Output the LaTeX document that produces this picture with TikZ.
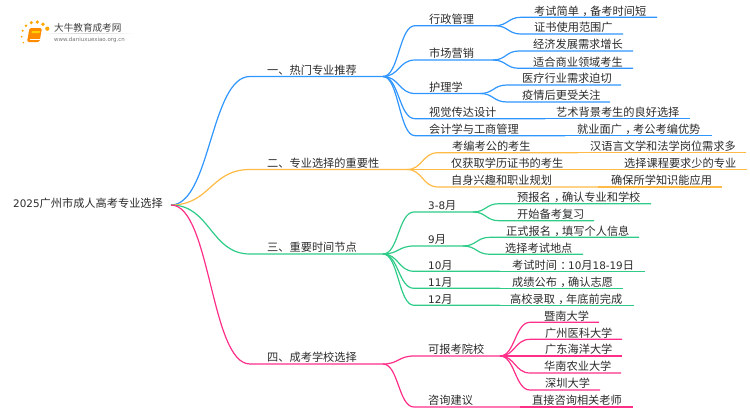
\documentclass[tikz,border=0pt]{standalone}
\usepackage{fontspec}
\setmainfont{Noto Sans CJK SC}
\newfontfamily\latfont{DejaVu Sans}
\usetikzlibrary{calc}
\definecolor{cblue}{HTML}{2F95FF}
\definecolor{corange}{HTML}{FFBB45}
\definecolor{cgreen}{HTML}{2ECC88}
\definecolor{cpink}{HTML}{FF2E88}
\definecolor{ctext}{HTML}{2B2B2B}
\newcommand\lat[1]{{\latfont\fontsize{10.4}{12}\selectfont #1}}
\newcommand\cpunct[1]{\makebox[1em][l]{\hspace{.3em}#1}}
% style, parent, id, bend x, y, end x, text x, text
\newcommand\bough[8]{%
  \coordinate (#3-a) at (#4,#5);
  \coordinate (#3-b) at (#6,#5);
  \node[lab] (#3) at (#7,#5-2.3) {#8};
  \draw[#1] (#2) .. controls ($(#2)!0.5!(#2-|#3-a)$) and ($(#3-a)!0.5!(#3-a-|#2)$) .. (#3-a) -- (#3-b);
}
\tikzset{
  lab/.style={anchor=base west,inner sep=0pt,text=ctext,font=\fontsize{11.2}{13}\selectfont},
  bb/.style={cblue,line width=1.2pt},
  ob/.style={corange,line width=1.2pt},
  gb/.style={cgreen,line width=1.2pt},
  pb/.style={cpink,line width=1.2pt}
}
\begin{document}
\begin{tikzpicture}[x=1pt,y=-1pt]
\useasboundingbox (0,0) rectangle (750,410);
% logo
\shade[left color=white,right color=white,middle color=black!18] (40,33) rectangle (134,33.6);
\foreach \p/\r in {(23.3,42.6)/0.9,(21.7,36.7)/1,(22.7,30.7)/1.2,(26,25.7)/1.4,(31.3,22.7)/1.7,(37.3,22)/1.8,(43,24.3)/1.9,(47.3,28.7)/2.1}
  \fill[orange!70!yellow] \p circle (\r);
\fill[orange!90!yellow,rounded corners=1.5pt] (29.5,28) -- (42,28) -- (39.5,42) -- (27,42) -- cycle;
\draw[white,line width=.5pt] (30,39.5) -- (39.5,39.5);
\fill[yellow!70!orange] (32,31) -- (40,31) -- (39.5,33) -- (31.5,33) -- cycle;
\node[anchor=base west,inner sep=0pt,text=black!75,font=\fontsize{9.6}{11}\selectfont] (logoa) at (54,31) {大牛教育成考网};
\node[anchor=base west,inner sep=0pt,text=black!55,font=\latfont\fontsize{5.5}{7}\selectfont] (logob) at (54,41) {www.daniuxuexiao.org.cn};
% root
\node[lab] (root) at (13,207.6) {\lat{2025}广州市成人高考专业选择};
\coordinate (r) at (171,205);
% level 1
\bough{bb}{r}{a}{250}{76.5}{383}{267}{一、热门专业推荐}
\bough{ob}{r}{b}{250}{169.5}{407}{267}{二、专业选择的重要性}
\bough{gb}{r}{c}{250}{254}{383}{267}{三、重要时间节点}
\bough{pb}{r}{d}{250}{364}{383}{267}{四、成考学校选择}
% blue
\bough{bb}{a-b}{a1}{415}{25.7}{495}{429}{行政管理}
\bough{bb}{a-b}{a2}{415}{60}{493}{429}{市场营销}
\bough{bb}{a-b}{a3}{415}{93.5}{480}{429}{护理学}
\bough{bb}{a-b}{a4}{415}{118.7}{545}{429}{视觉传达设计}
\bough{bb}{a-b}{a5}{415}{135.7}{565}{429}{会计学与工商管理}
\bough{bb}{a1-b}{a11}{521}{17.3}{657}{534}{考试简单\cpunct{，}备考时间短}
\bough{bb}{a1-b}{a12}{521}{34}{623}{534}{证书使用范围广}
\bough{bb}{a2-b}{a21}{519}{51}{633}{533}{经济发展需求增长}
\bough{bb}{a2-b}{a22}{519}{68.3}{633}{533}{适合商业领域考生}
\bough{bb}{a3-b}{a31}{507}{85}{621}{522}{医疗行业需求迫切}
\bough{bb}{a3-b}{a32}{507}{102}{610}{522}{疫情后更受关注}
\bough{bb}{a4-b}{a41}{545}{118.7}{690}{556}{艺术背景考生的良好选择}
\bough{bb}{a5-b}{a51}{565}{135.7}{712}{577}{就业面广\cpunct{，}考公考编优势}
% orange
\bough{ob}{b-b}{b1}{438}{152.7}{578}{452}{考编考公的考生}
\bough{ob}{b-b}{b2}{438}{169.5}{610}{451}{仅获取学历证书的考生}
\bough{ob}{b-b}{b3}{438}{187}{598}{451}{自身兴趣和职业规划}
\bough{ob}{b1-b}{b11}{578}{152.7}{746}{590}{汉语言文学和法学岗位需求多}
\bough{ob}{b2-b}{b21}{610}{169.5}{747}{624}{选择课程要求少的专业}
\bough{ob}{b3-b}{b31}{598}{187}{722}{611}{确保所学知识能应用}
% green
\bough{gb}{c-b}{c1}{414}{212}{473}{428}{\lat{3-8}月}
\bough{gb}{c-b}{c2}{414}{246}{463}{428}{\lat{9}月}
\bough{gb}{c-b}{c3}{414}{271.3}{500}{428}{\lat{10}月}
\bough{gb}{c-b}{c4}{414}{288.3}{500}{428}{\lat{11}月}
\bough{gb}{c-b}{c5}{414}{305.3}{500}{428}{\lat{12}月}
\bough{gb}{c1-b}{c11}{499}{203.7}{651}{517}{预报名\cpunct{，}确认专业和学校}
\bough{gb}{c1-b}{c12}{499}{220.7}{594}{517}{开始备考复习}
\bough{gb}{c2-b}{c21}{490}{237.3}{639}{506}{正式报名\cpunct{，}填写个人信息}
\bough{gb}{c2-b}{c22}{490}{254.3}{583}{505}{选择考试地点}
\bough{gb}{c3-b}{c31}{500}{271.3}{645}{512}{考试时间\cpunct{：}\lat{10}月\lat{18-19}日}
\bough{gb}{c4-b}{c41}{500}{288.3}{623}{512}{成绩公布\cpunct{，}确认志愿}
\bough{gb}{c5-b}{c51}{500}{305.3}{634}{510}{高校录取\cpunct{，}年底前完成}
% pink
\bough{pb}{d-b}{d1}{414}{356}{500}{428}{可报考院校}
\bough{pb}{d-b}{d2}{414}{407}{520}{428}{咨询建议}
\bough{pb}{d1-b}{d11}{530}{322.3}{599}{544}{暨南大学}
\bough{pb}{d1-b}{d12}{530}{339.3}{622}{545}{广州医科大学}
\bough{pb}{d1-b}{d13}{530}{356}{622}{545}{广东海洋大学}
\bough{pb}{d1-b}{d14}{530}{373}{621}{544}{华南农业大学}
\bough{pb}{d1-b}{d15}{530}{390}{600}{545}{深圳大学}
\bough{pb}{d2-b}{d21}{520}{407}{633}{532}{直接咨询相关老师}
\end{tikzpicture}
\end{document}
